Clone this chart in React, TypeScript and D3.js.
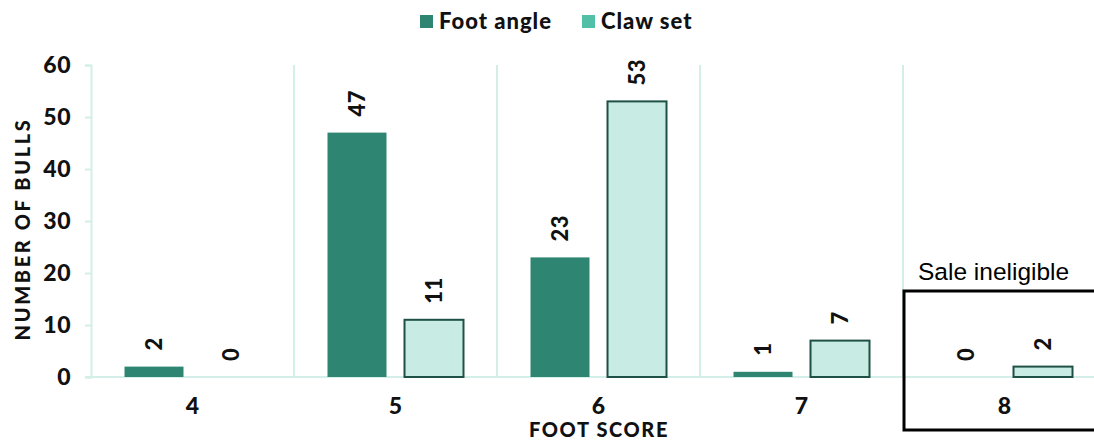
import { useEffect, useRef } from "react"
import * as d3 from "d3"

const scores = ["4", "5", "6", "7", "8"]
const seriesNames = ["Foot angle", "Claw set"]
const footAngle = [2, 47, 23, 1, 0]
const clawSet = [0, 11, 53, 7, 2]
const yTicks = [0, 10, 20, 30, 40, 50, 60]

const W = 1094
const H = 441

export default function App() {
  const svgRef = useRef<SVGSVGElement>(null)

  useEffect(() => {
    if (!svgRef.current) return
    const svg = d3.select(svgRef.current)
    svg.selectAll("*").remove()

    const font = "Lato, 'DejaVu Sans', sans-serif"
    const gridColor = "#d3efe8"
    const colors = ["#2e8572", "#c8ebe3"]

    const x = d3.scaleBand().domain(scores).range([91, 1106]).padding(0)
    const xInner = d3
      .scaleBand()
      .domain(seriesNames)
      .range([0, x.bandwidth()])
      .paddingInner(0.234)
      .paddingOuter(0.435)
    const y = d3.scaleLinear().domain([0, 60]).range([377, 65])

    // vertical separators between categories
    scores.slice(1).forEach((s) => {
      svg.append("line")
        .attr("x1", x(s)!)
        .attr("x2", x(s)!)
        .attr("y1", 65)
        .attr("y2", 377)
        .attr("stroke", gridColor)
        .attr("stroke-width", 2)
    })

    // y axis
    const yAxis = svg.append("g").attr("transform", "translate(91,0)")
      .call(d3.axisLeft(y).tickValues(yTicks).tickSize(6).tickPadding(14))
    yAxis.select(".domain").attr("stroke", gridColor).attr("stroke-width", 2)
    yAxis.selectAll(".tick line").attr("stroke", gridColor).attr("stroke-width", 2)
    yAxis.selectAll("text")
      .attr("font-family", font)
      .attr("font-weight", 900)
      .attr("font-size", 23)
      .attr("letter-spacing", 0.5)
      .attr("fill", "#111")

    // x axis baseline
    svg.append("line")
      .attr("x1", 85).attr("x2", W)
      .attr("y1", y(0)).attr("y2", y(0))
      .attr("stroke", gridColor).attr("stroke-width", 2)

    const xAxis = svg.append("g").attr("transform", `translate(0,${y(0)})`)
      .call(d3.axisBottom(x).tickSize(0).tickPadding(21))
    xAxis.select(".domain").remove()
    xAxis.selectAll("text")
      .attr("font-family", font)
      .attr("font-weight", 900)
      .attr("font-size", 23)
      .attr("fill", "#111")

    const all = [footAngle, clawSet]
    all.forEach((vals, si) => {
      const name = seriesNames[si]
      scores.forEach((s, i) => {
        const v = vals[i]
        const bx = x(s)! + xInner(name)!
        const bw = xInner.bandwidth()
        if (v > 0) {
          svg.append("rect")
            .attr("x", bx)
            .attr("y", y(v))
            .attr("width", bw)
            .attr("height", y(0) - y(v))
            .attr("fill", colors[si])
            .attr("stroke", si === 1 ? "#1f5045" : "none")
            .attr("stroke-width", si === 1 ? 2 : 0)
        }
        const cx = bx + bw / 2
        const ty = y(v) - 16
        svg.append("text")
          .attr("transform", `translate(${cx + 8},${ty}) rotate(-90)`)
          .attr("text-anchor", "start")
          .attr("font-family", font)
          .attr("font-weight", 900)
          .attr("font-size", 22)
          .attr("letter-spacing", 0.5)
          .attr("fill", "#111")
          .text(v)
      })
    })

    // axis titles
    svg.append("text")
      .attr("x", 599).attr("y", 437)
      .attr("text-anchor", "middle")
      .attr("font-family", font).attr("font-weight", 900).attr("font-size", 20)
      .attr("letter-spacing", 1.6)
      .attr("fill", "#111")
      .text("FOOT SCORE")
    svg.append("text")
      .attr("transform", "translate(30,229) rotate(-90)")
      .attr("text-anchor", "middle")
      .attr("font-family", font).attr("font-weight", 900).attr("font-size", 20)
      .attr("letter-spacing", 2.6)
      .attr("fill", "#111")
      .text("NUMBER OF BULLS")

    // legend
    const legendColors = ["#2e8572", "#52c0a6"]
    const legendX = [420, 582]
    seriesNames.forEach((n, i) => {
      svg.append("rect")
        .attr("x", legendX[i]).attr("y", 15)
        .attr("width", 13).attr("height", 13)
        .attr("fill", legendColors[i])
      svg.append("text")
        .attr("x", legendX[i] + 19).attr("y", 29)
        .attr("font-family", font).attr("font-weight", 900).attr("font-size", 22)
        .attr("letter-spacing", 1)
        .attr("fill", "#111")
        .text(n)
    })

    // sale ineligible box
    svg.append("rect")
      .attr("x", 904).attr("y", 291)
      .attr("width", 200).attr("height", 139)
      .attr("fill", "none")
      .attr("stroke", "#000")
      .attr("stroke-width", 3)
    svg.append("text")
      .attr("x", 918).attr("y", 280)
      .attr("font-family", "'Liberation Sans', Arial, sans-serif")
      .attr("font-size", 24.5)
      .attr("fill", "#000")
      .text("Sale ineligible")
  }, [])

  return (
    <svg
      ref={svgRef}
      width={W}
      height={H}
      style={{ position: "absolute", left: 0, top: 0, background: "#fff" }}
    />
  )
}
